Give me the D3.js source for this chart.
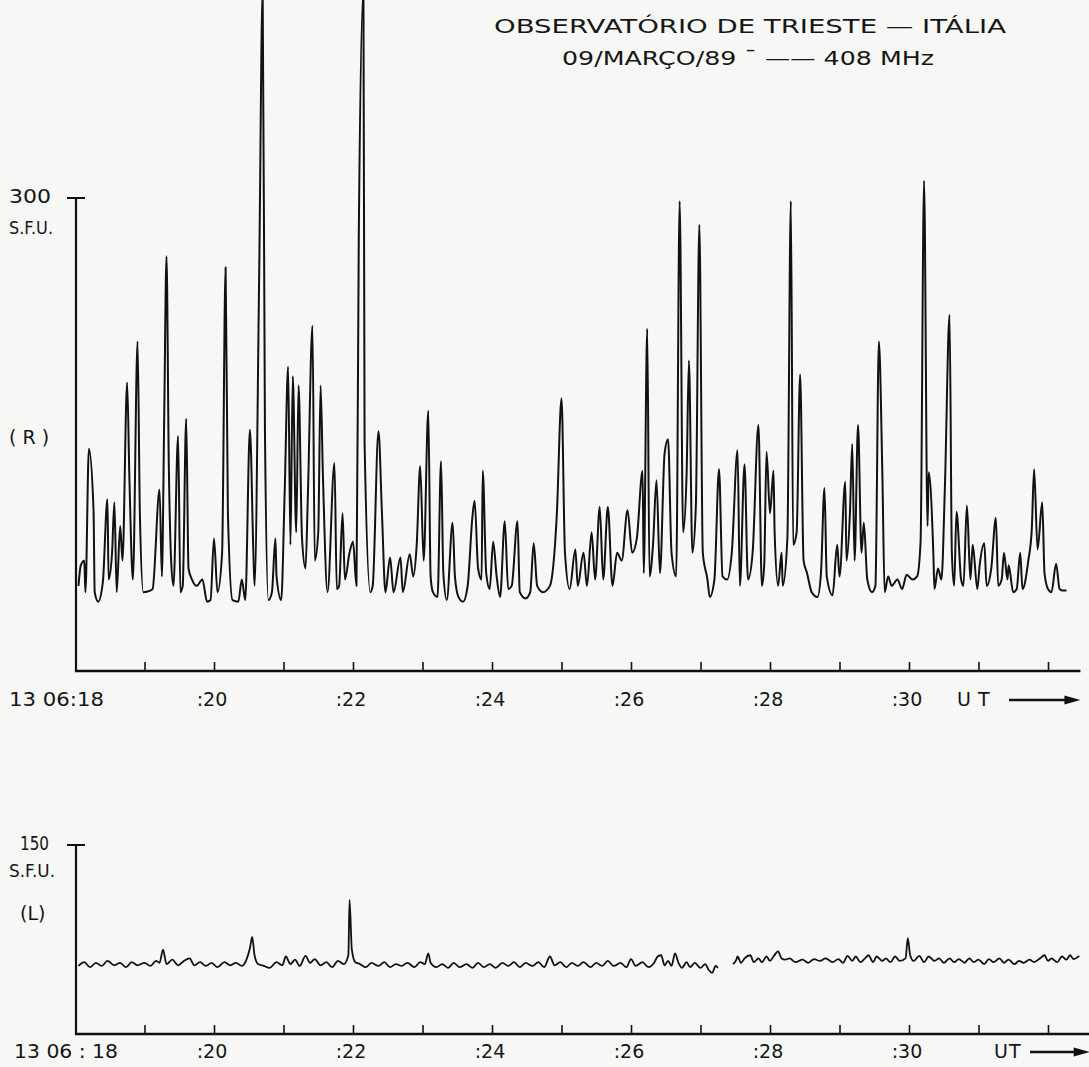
<!DOCTYPE html>
<html>
<head>
<meta charset="utf-8">
<script src="https://cdn.jsdelivr.net/npm/d3@7"></script>
<style>
body{margin:0;background:#f7f7f5;}
text{font-family:"DejaVu Sans",Arial,sans-serif;fill:#161616;}
</style>
</head>
<body>
<svg id="chart" width="1089" height="1067"></svg>
<script>
// tempo em segundos depois de 13 06:18:00 UT, fluxo em S.F.U.
var rightPol = [[3,54],[5,67],[8,70],[9,50],[12,141],[16,102],[17,50],[20,44],[24,56],[28,109],[29,58],[32,75],[34,107],[36,50],[39,92],[41,70],[45,183],[47,121],[50,58],[54,209],[56,100],[59,50],[65,51],[67,52],[73,115],[75,60],[77,160],[79,263],[81,130],[83,70],[85,54],[89,149],[91,50],[93,54],[96,160],[98,65],[101,58],[105,54],[110,58],[114,44],[117,45],[120,84],[123,50],[127,75],[130,256],[132,100],[136,45],[141,44],[144,58],[147,45],[151,153],[154,75],[155,54],[159,251],[162,432],[164,151],[167,45],[170,50],[173,84],[174,60],[178,45],[181,113],[184,193],[186,80],[188,187],[191,88],[193,181],[196,84],[199,65],[201,110],[205,219],[207,70],[210,88],[212,181],[214,125],[218,50],[224,132],[226,52],[228,54],[231,100],[233,58],[237,75],[240,82],[243,54],[245,276],[249,432],[250,145],[255,50],[257,54],[262,152],[265,100],[268,50],[272,72],[275,50],[281,72],[283,50],[289,74],[292,60],[295,80],[298,130],[301,70],[305,165],[307,60],[309,50],[313,47],[316,133],[318,62],[321,45],[326,94],[328,60],[331,47],[335,44],[339,54],[343,97],[345,108],[348,65],[351,58],[352,127],[355,62],[358,52],[361,82],[364,60],[367,47],[371,95],[374,52],[377,54],[382,95],[384,50],[389,46],[393,50],[396,81],[399,54],[404,50],[410,54],[416,100],[420,173],[423,75],[427,52],[432,77],[434,54],[439,75],[442,54],[446,88],[449,58],[453,104],[456,58],[460,104],[464,54],[468,75],[472,70],[477,102],[481,75],[485,84],[490,127],[491,62],[494,217],[496,60],[499,80],[502,121],[505,62],[509,138],[512,147],[515,75],[519,60],[522,298],[525,88],[528,125],[530,197],[533,75],[536,105],[539,283],[542,75],[546,58],[548,47],[552,58],[556,128],[559,60],[563,58],[567,75],[572,140],[574,54],[578,131],[581,58],[585,75],[590,156],[593,54],[595,67],[597,139],[600,100],[603,127],[604,88],[607,54],[610,75],[611,54],[615,84],[618,298],[620,80],[623,88],[626,188],[629,70],[632,62],[636,50],[641,47],[644,62],[647,116],[649,60],[654,48],[658,80],[660,60],[665,120],[666,70],[669,100],[671,144],[673,70],[676,156],[679,75],[681,94],[684,58],[688,50],[691,54],[694,209],[697,125],[699,50],[702,60],[705,54],[710,58],[714,52],[718,61],[723,58],[727,60],[730,82],[733,311],[736,92],[737,126],[741,75],[742,52],[745,65],[748,58],[751,117],[755,226],[757,75],[759,54],[761,101],[765,58],[767,54],[770,105],[773,58],[775,80],[779,52],[781,67],[785,81],[787,54],[791,65],[795,97],[797,54],[800,58],[802,75],[805,58],[806,67],[810,50],[813,52],[816,75],[818,52],[823,70],[826,90],[828,128],[831,77],[835,107],[837,62],[840,52],[843,50],[847,68],[850,52],[853,51],[856,51]];

// polarizacao L, registro interrompido por volta de :27
var leftPolA = [[3,54],[8,57],[13,53],[18,56.5],[23,54],[28,58],[34,54.5],[39,56.5],[44,53],[49,57],[54,54.5],[60,56.5],[65,54],[70,58],[73,56.5],[76,67],[79,55.5],[84,59],[89,54.5],[94,58],[99,60],[103,54.5],[108,57],[113,54],[118,56.5],[123,53],[129,57],[134,54.5],[139,56.5],[144,54],[148,59],[151,68],[153,77],[155,62.5],[158,55.5],[163,54],[168,52.5],[174,57],[179,54.5],[182,61.5],[186,55.5],[190,59],[194,54],[199,62],[203,56.5],[207,59.5],[212,54.5],[217,57],[222,53],[227,58],[232,55.5],[236,62.5],[237,106.5],[239,67],[242,57],[246,55.5],[251,53],[256,56.5],[262,54],[267,57],[272,53],[277,55.5],[282,54],[287,56.5],[293,53],[298,57],[302,55.5],[305,64],[307,56.5],[312,53],[317,55.5],[322,52.5],[327,56.5],[332,53],[338,55.5],[343,52.5],[348,56.5],[353,53],[358,55.5],[363,52.5],[369,56.5],[374,54],[379,57],[384,53],[389,56.5],[395,54],[400,57],[405,53],[410,61.5],[414,54.5],[419,57],[424,53],[429,56.5],[434,54],[439,57],[445,53],[450,56.5],[455,54],[460,58],[465,54],[471,56.5],[476,53],[480,59.5],[484,54],[490,57],[495,53],[500,56.5],[503,61.5],[506,62.5],[509,54.5],[512,58],[515,54],[518,64],[521,56.5],[524,52.5],[528,57],[531,53],[535,56.5],[540,52.5],[544,55.5],[547,51],[550,48.5],[553,54],[555,52.5]];
var leftPolB = [[568,55.5],[571,59],[572,61.5],[575,56.5],[578,60],[583,62.5],[586,57],[590,60],[593,57],[597,61.5],[600,58],[603,61.5],[607,65.5],[610,60],[613,59],[617,60],[622,57],[628,59],[633,56.5],[638,59.5],[643,58],[648,60],[654,57],[659,59.5],[663,56.5],[667,62],[671,58],[674,61.5],[678,57],[682,60],[685,62.5],[689,57],[692,61.5],[697,58],[700,60],[704,57],[708,61.5],[712,58],[717,60],[719,76],[721,62.5],[724,58],[729,62],[733,57],[737,61.5],[742,58],[746,60],[750,56.5],[755,60],[759,57],[763,59.5],[768,56.5],[772,60],[776,57],[780,59],[785,55.5],[789,59.5],[793,57],[798,60],[802,56.5],[806,59],[811,55.5],[815,58],[819,56.5],[824,59],[828,57],[833,60],[837,62.5],[840,58],[843,60],[848,57],[852,61.5],[856,59],[859,62.5],[862,59.5],[867,62]];

var tickSeconds = d3.range(60, 841, 60);
var labelSeconds = [0, 120, 240, 360, 480, 600, 720];
var labelsTop = ["13 06:18", ":20", ":22", ":24", ":26", ":28", ":30"];
var labelsBottom = ["13 06 : 18", ":20", ":22", ":24", ":26", ":28", ":30"];

var svg = d3.select("#chart");
var x = d3.scaleLinear().domain([0, 840]).range([75, 1048]);
var yTop = d3.scaleLinear().domain([0, 300]).range([671, 198]);
var yBot = d3.scaleLinear().domain([0, 150]).range([1034, 845]);

// titulo
svg.append("text").attr("x", 494).attr("y", 33).attr("font-size", 20)
  .attr("textLength", 512).attr("lengthAdjust", "spacingAndGlyphs")
  .text("OBSERVATÓRIO  DE  TRIESTE — ITÁLIA");
svg.append("text").attr("x", 562).attr("y", 65).attr("font-size", 19)
  .attr("textLength", 372).attr("lengthAdjust", "spacingAndGlyphs")
  .text("09/MARÇO/89 ¯ —— 408 MHz");

function panel(y, top, yTickVal, yTickText, pol, labels, labelY, utX) {
  var g = svg.append("g");
  var xEnd = x(top ? 868 : 876);
  // eixo y
  g.append("line").attr("x1", x(0) + 1).attr("x2", x(0) + 1)
    .attr("y1", y(yTickVal)).attr("y2", y(0) + 1)
    .attr("stroke", "#111").attr("stroke-width", 2.2);
  g.append("line").attr("x1", x(0) - 8).attr("x2", x(0) + 10)
    .attr("y1", y(yTickVal)).attr("y2", y(yTickVal))
    .attr("stroke", "#111").attr("stroke-width", 2);
  g.append("text").attr("x", top ? 51 : 49).attr("y", y(yTickVal) + 5)
    .attr("text-anchor", "end").attr("font-size", 19)
    .attr("textLength", top ? 42 : 29).attr("lengthAdjust", "spacingAndGlyphs")
    .text(yTickText);
  g.append("text").attr("x", 9).attr("y", y(yTickVal) + (top ? 36 : 32))
    .attr("font-size", 17).attr("textLength", top ? 44 : 46).attr("lengthAdjust", "spacingAndGlyphs")
    .text("S.F.U.");
  g.append("text").attr("x", top ? 9 : 20).attr("y", top ? 444 : 920)
    .attr("font-size", 19).text(pol);

  // eixo x com marcas para dentro
  var ax = d3.axisTop(x).tickValues(tickSeconds).tickSize(9).tickFormat("");
  var axg = g.append("g").attr("transform", "translate(0," + y(0) + ")").call(ax);
  axg.select(".domain").remove();
  axg.selectAll("line").attr("stroke", "#111").attr("stroke-width", 1.6);
  g.append("line").attr("x1", x(0)).attr("x2", xEnd)
    .attr("y1", y(0)).attr("y2", y(0))
    .attr("stroke", "#111").attr("stroke-width", 2.6);

  g.selectAll(".lab").data(labelSeconds).enter().append("text")
    .attr("x", function (d, i) { return i === 0 ? (top ? 9 : 14) : x(d) - 2; })
    .attr("y", labelY)
    .attr("text-anchor", function (d, i) { return i === 0 ? "start" : "middle"; })
    .attr("font-size", 19)
    .attr("textLength", function (d, i) { return i === 0 ? (top ? 95 : 104) : null; })
    .attr("lengthAdjust", "spacingAndGlyphs")
    .text(function (d, i) { return labels[i]; });

  // UT com seta
  g.append("text").attr("x", utX).attr("y", labelY).attr("font-size", 19)
    .attr("letter-spacing", top ? 7 : 1).text("UT");
  var a0 = utX + (top ? 52 : 36);
  g.append("line").attr("x1", a0).attr("x2", xEnd - 10)
    .attr("y1", labelY - 6).attr("y2", labelY - 6)
    .attr("stroke", "#111").attr("stroke-width", 2.6);
  g.append("path").attr("d", "M" + (xEnd - 16) + "," + (labelY - 10.5) + "L" + xEnd + "," + (labelY - 6) + "L" + (xEnd - 16) + "," + (labelY - 1.5) + "Z")
    .attr("fill", "#111");
  return g;
}

panel(yTop, true, 300, "300", "( R )", labelsTop, 706, 957);
panel(yBot, false, 150, "150", "(L)", labelsBottom, 1058, 994);

var lineTop = d3.line().curve(d3.curveMonotoneX)
  .x(function (d) { return x(d[0]); }).y(function (d) { return yTop(d[1]); });
var lineBot = d3.line().curve(d3.curveMonotoneX)
  .x(function (d) { return x(d[0]); }).y(function (d) { return yBot(d[1]); });

svg.append("path").datum(rightPol).attr("d", lineTop)
  .attr("fill", "none").attr("stroke", "#111").attr("stroke-width", 2).attr("stroke-linejoin", "round");
[leftPolA, leftPolB].forEach(function (s) {
  svg.append("path").datum(s).attr("d", lineBot)
    .attr("fill", "none").attr("stroke", "#111").attr("stroke-width", 1.8).attr("stroke-linejoin", "round");
});
</script>
</body>
</html>
